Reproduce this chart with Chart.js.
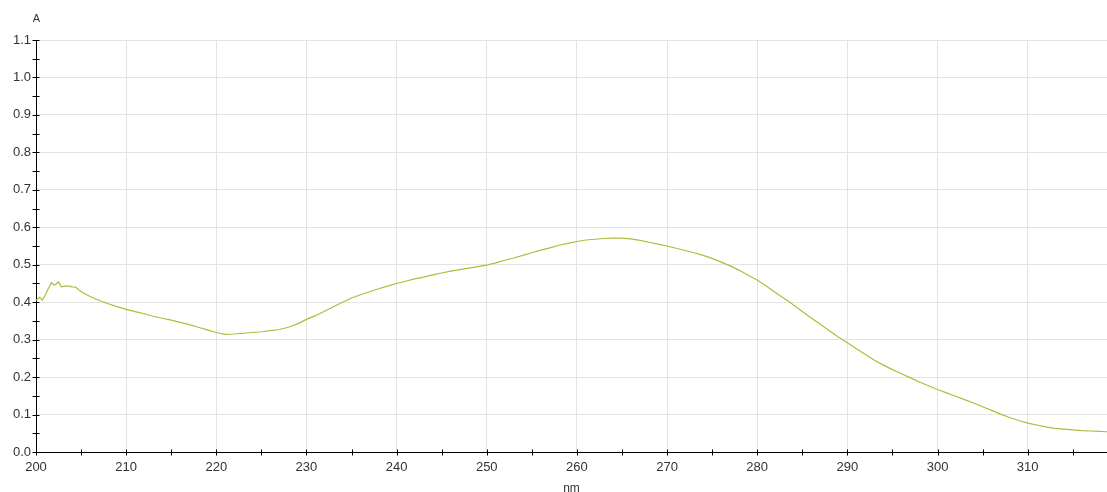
<!DOCTYPE html>
<html>
<head>
<meta charset="utf-8">
<script src="https://cdn.jsdelivr.net/npm/chart.js@4/dist/chart.umd.min.js"></script>
<style>
  html, body { margin: 0; padding: 0; background: #ffffff; }
  #c { display: block; }
</style>
</head>
<body>
<canvas id="c" width="1107" height="492"></canvas>
<script>
const wavelengths = [
  200.0, 200.4, 200.7, 201.0, 201.3, 201.7, 202.0, 202.2, 202.5, 202.8,
  203.2, 203.7, 204.0, 204.4, 204.8, 205.2, 206.0, 206.7, 207.5, 208.1,
  209, 210, 211, 212, 212.9, 214, 215, 216, 217, 218, 219, 220, 221, 222,
  223, 224, 225, 226, 227, 228, 229, 230, 231, 232, 233, 234, 235, 236,
  237, 238, 239, 240, 241, 242, 243, 244, 245, 246, 247, 248, 249, 250,
  251, 252, 253, 254, 255, 256, 257, 258, 259, 260, 261, 262, 263, 264,
  265, 266, 267, 268, 269, 270, 271, 272, 273, 274, 275, 276, 277, 278,
  279, 280, 281, 282, 283, 284, 285, 286, 287, 288, 289, 290, 291, 292,
  293, 294, 295, 296, 297, 298, 299, 300, 301, 302, 303, 304, 305, 306,
  307, 308, 309, 310, 311, 312, 313, 314, 315, 316, 317, 318, 318.8
];
const absorbance = [
  0.405, 0.413, 0.406, 0.418, 0.433, 0.452, 0.446, 0.448, 0.454, 0.441,
  0.443, 0.443, 0.441, 0.440, 0.432, 0.425, 0.415, 0.408, 0.400, 0.395,
  0.388, 0.381, 0.375, 0.369, 0.363, 0.357, 0.352, 0.346, 0.340, 0.333, 0.326, 0.319, 0.314, 0.315,
  0.317, 0.319, 0.321, 0.324, 0.327, 0.333, 0.342, 0.354, 0.364, 0.376, 0.388, 0.400, 0.411, 0.420,
  0.428, 0.436, 0.443, 0.450, 0.456, 0.462, 0.467, 0.473, 0.478, 0.483, 0.487, 0.491, 0.495, 0.499,
  0.505, 0.512, 0.518, 0.525, 0.532, 0.539, 0.545, 0.552, 0.557, 0.562, 0.566, 0.568, 0.570, 0.571,
  0.571, 0.569, 0.565, 0.560, 0.555, 0.550, 0.544, 0.538, 0.532, 0.525, 0.517, 0.507, 0.497, 0.485,
  0.472, 0.459, 0.443, 0.426, 0.410, 0.393, 0.375, 0.358, 0.341, 0.324, 0.307, 0.292, 0.276, 0.260,
  0.245, 0.232, 0.220, 0.209, 0.198, 0.187, 0.177, 0.167, 0.158, 0.149, 0.140, 0.131, 0.121, 0.111,
  0.101, 0.092, 0.084, 0.077, 0.072, 0.067, 0.063, 0.061, 0.059, 0.057, 0.056, 0.055, 0.054
];
const xTitle = 'nm';
const yTitle = 'A';
const xMin = 200, xMax = 318.8, xStep = 5, xLabelEvery = 10;
const yMin = 0, yMax = 1.1, yStep = 0.05, yLabelEvery = 0.1;

const isMultiple = (v, m) => Math.abs(v / m - Math.round(v / m)) < 1e-6;

const points = wavelengths.map((w, i) => ({ x: w, y: absorbance[i] }));

const axisDecor = {
  id: 'axisDecor',
  afterDraw(chart) {
    const ctx = chart.ctx;
    const xs = chart.scales.x, ys = chart.scales.y;
    ctx.save();
    ctx.strokeStyle = '#000000';
    ctx.lineWidth = 1;
    ctx.beginPath();
    const axisY = Math.round(ys.getPixelForValue(yMin)) + 0.5;
    xs.ticks.forEach(t => {
      if (!isMultiple(t.value, xStep)) return;
      const px = Math.round(xs.getPixelForValue(t.value)) + 0.5;
      ctx.moveTo(px, axisY - 3);
      ctx.lineTo(px, axisY + 3);
    });
    const axisX = Math.round(xs.getPixelForValue(xMin)) + 0.5;
    ys.ticks.forEach(t => {
      if (!isMultiple(t.value, yStep)) return;
      const py = Math.round(ys.getPixelForValue(t.value)) + 0.5;
      ctx.moveTo(axisX - 4, py);
      ctx.lineTo(axisX + 3, py);
    });
    ctx.stroke();
    ctx.fillStyle = '#333333';
    ctx.font = '11px "Liberation Sans", Arial, sans-serif';
    ctx.textAlign = 'center';
    ctx.textBaseline = 'middle';
    ctx.fillText(yTitle, axisX, 19);
    ctx.restore();
  }
};

new Chart(document.getElementById('c'), {
  type: 'line',
  data: {
    datasets: [{
      data: points,
      borderColor: '#b4ba3c',
      borderWidth: 1.2,
      pointRadius: 0,
      tension: 0,
      fill: false
    }]
  },
  options: {
    responsive: false,
    animation: false,
    layout: { padding: { top: 40, left: 0, right: 0, bottom: 0 } },
    plugins: { legend: { display: false }, tooltip: { enabled: false }, title: { display: false } },
    scales: {
      x: {
        type: 'linear',
        position: 'bottom',
        min: xMin,
        max: xMax,
        afterFit: s => { s.height = 40; },
        ticks: {
          stepSize: xStep,
          includeBounds: false,
          autoSkip: false,
          maxRotation: 0,
          padding: 8,
          color: '#333333',
          font: { family: '"Liberation Sans", Arial, sans-serif', size: 13 },
          callback: v => isMultiple(v, xLabelEvery) ? String(Math.round(v)) : ''
        },
        grid: {
          drawTicks: false,
          lineWidth: 1,
          color: c => (c.tick && isMultiple(c.tick.value, xLabelEvery)) ? '#e4e4e4' : 'rgba(0,0,0,0)'
        },
        border: { display: true, color: '#000000', width: 1 },
        title: {
          display: true,
          text: xTitle,
          color: '#333333',
          padding: { top: 0, bottom: -4 },
          font: { family: '"Liberation Sans", Arial, sans-serif', size: 12 }
        }
      },
      y: {
        type: 'linear',
        min: yMin,
        max: yMax,
        afterFit: s => { s.width = 36; },
        ticks: {
          stepSize: yStep,
          includeBounds: false,
          autoSkip: false,
          padding: 5,
          color: '#333333',
          font: { family: '"Liberation Sans", Arial, sans-serif', size: 13 },
          callback: v => isMultiple(v, yLabelEvery) ? v.toFixed(1) : ''
        },
        grid: {
          drawTicks: false,
          lineWidth: 1,
          color: c => (c.tick && isMultiple(c.tick.value, yLabelEvery)) ? '#e4e4e4' : 'rgba(0,0,0,0)'
        },
        border: { display: true, color: '#000000', width: 1 }
      }
    }
  },
  plugins: [axisDecor]
});
</script>
</body>
</html>
